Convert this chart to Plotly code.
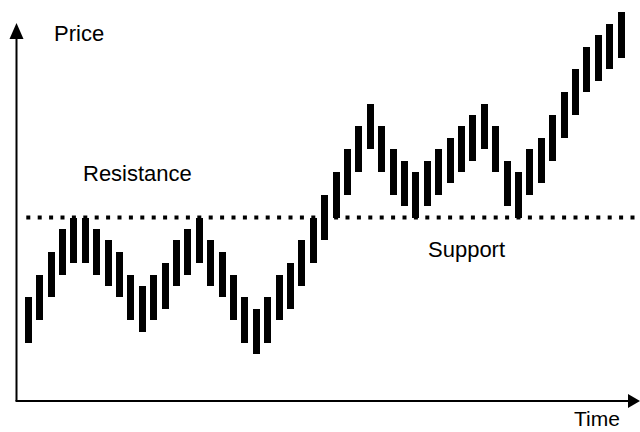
import plotly.graph_objects as go

# Price bars: one high-low range per period
periods = list(range(1, 54))
lows = [20, 22, 24, 26, 27, 27, 26, 25, 24, 22, 21, 22, 23, 25, 26, 27, 25, 24,
        22, 20, 19, 20, 22, 23, 25, 27, 29, 31, 33, 35, 37, 35, 33, 32, 31, 32,
        33, 34, 35, 36, 37, 35, 32, 31, 33, 34, 36, 38, 40, 42, 43, 44, 45]
highs = [24, 26, 28, 30, 31, 31, 30, 29, 28, 26, 25, 26, 27, 29, 30, 31, 29, 28,
         26, 24, 23, 24, 26, 27, 29, 31, 33, 35, 37, 39, 41, 39, 37, 36, 35, 36,
         37, 38, 39, 40, 41, 39, 36, 35, 37, 38, 40, 42, 44, 46, 47, 48, 49]
level = 31  # resistance that turns into support

W, H = 640, 432
PX_PER_PERIOD = 11.4
PX_PER_PRICE = 11.4
FIRST_PX = 28.3     # pixel column of the first period
REF_PRICE, REF_PY = 20, 343.0

x_range = [1 - FIRST_PX / PX_PER_PERIOD, 1 + (W - FIRST_PX) / PX_PER_PERIOD]
y_range = [REF_PRICE - (H - REF_PY) / PX_PER_PRICE, REF_PRICE + REF_PY / PX_PER_PRICE]


def px(xp):
    return xp / W


def py(yp):
    return 1 - yp / H


fig = go.Figure()

fig.add_trace(go.Bar(
    x=periods,
    y=[h - l for h, l in zip(highs, lows)],
    base=lows,
    width=7 / PX_PER_PERIOD,
    marker=dict(color="black", line=dict(width=0)),
    hoverinfo="skip",
))

half_dot = 2 / PX_PER_PERIOD
fig.add_trace(go.Scatter(
    x=[periods[0] - half_dot, periods[-1] + 1.3],
    y=[level, level],
    mode="lines",
    line=dict(color="black", width=4, dash="4px,7.4px"),
    hoverinfo="skip",
))

# Axis lines with arrowheads
ax_x, ax_y = 16.5, 401.0
shapes = [
    dict(type="line", xref="paper", yref="paper", x0=px(ax_x), y0=py(ax_y),
         x1=px(ax_x), y1=py(36), line=dict(color="black", width=2)),
    dict(type="line", xref="paper", yref="paper", x0=px(ax_x - 1), y0=py(ax_y),
         x1=px(628), y1=py(ax_y), line=dict(color="black", width=2)),
    dict(type="path", xref="paper", yref="paper",
         path=f"M {px(ax_x)},{py(23)} L {px(ax_x - 7)},{py(39)} L {px(ax_x + 7)},{py(39)} Z",
         fillcolor="black", line=dict(color="black", width=0)),
    dict(type="path", xref="paper", yref="paper",
         path=f"M {px(640)},{py(ax_y)} L {px(628)},{py(ax_y - 7)} L {px(628)},{py(ax_y + 7)} Z",
         fillcolor="black", line=dict(color="black", width=0)),
]

font = dict(family="Liberation Sans, Arial, sans-serif", size=22, color="black")
labels = [("Price", 53, 33.5, 22), ("Resistance", 82, 173.5, 22),
          ("Support", 427, 249.5, 22), ("Time", 573, 418.5, 21)]
annotations = [
    dict(text=t, x=px(x), y=py(y), xref="paper", yref="paper", xanchor="left",
         yanchor="middle", showarrow=False, borderpad=0, font={**font, "size": s})
    for t, x, y, s in labels
]

fig.update_layout(
    width=W, height=H,
    margin=dict(l=0, r=0, t=0, b=0),
    paper_bgcolor="white", plot_bgcolor="white",
    showlegend=False,
    bargap=0,
    xaxis=dict(range=x_range, visible=False, fixedrange=True),
    yaxis=dict(range=y_range, visible=False, fixedrange=True),
    shapes=shapes,
    annotations=annotations,
)

fig.write_html("out.html")
